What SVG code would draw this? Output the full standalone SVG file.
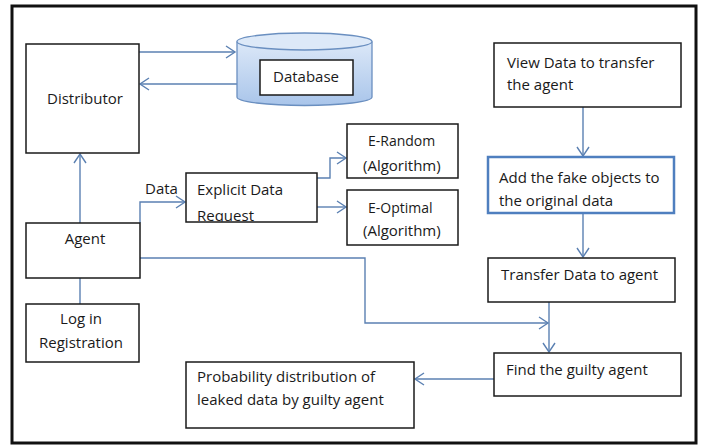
<svg xmlns="http://www.w3.org/2000/svg" width="702" height="445" viewBox="0 0 702 445">
<style>
.box{fill:#fff;stroke:#1a1a1a;stroke-width:1.5}
.t{font-family:"Open Sans","Liberation Sans",Arial,sans-serif;font-size:15px;fill:#1a1a1a}
.s{font-size:14px}
.c{text-anchor:middle}
.con{fill:none;stroke:#5b80b2;stroke-width:1.4}
</style>
<defs>
<marker id="ah" markerUnits="userSpaceOnUse" markerWidth="12" markerHeight="14" refX="10" refY="7" orient="auto">
<path d="M1,1 L10,7 L1,13" fill="none" stroke="#5b80b2" stroke-width="1.4"/>
</marker>
<linearGradient id="cyl" x1="0" y1="0" x2="0" y2="1">
<stop offset="0" stop-color="#dce8f8"/>
<stop offset="1" stop-color="#a9c5ea"/>
</linearGradient>
<clipPath id="reqclip"><rect x="186" y="173" width="131" height="48.5"/></clipPath>
</defs>
<rect x="12" y="6" width="684" height="437" fill="#fff" stroke="#111" stroke-width="3"/>

<g id="connectors">
<path class="con" d="M139,52 H235" marker-end="url(#ah)"/>
<path class="con" d="M237,84 H140" marker-end="url(#ah)"/>
<path class="con" d="M80,223 V154" marker-end="url(#ah)"/>
<path class="con" d="M80,304 V260" marker-end="url(#ah)"/>
<path class="con" d="M140,223 V202 H185" marker-end="url(#ah)"/>
<path class="con" d="M317,178 H330 V158 H346" marker-end="url(#ah)"/>
<path class="con" d="M317,207 H346" marker-end="url(#ah)"/>
<path class="con" d="M583,107 V156" marker-end="url(#ah)"/>
<path class="con" d="M583,213 V257" marker-end="url(#ah)"/>
<path class="con" d="M549,302 V352" marker-end="url(#ah)"/>
<path class="con" d="M140,258 H365 V323 H548" marker-end="url(#ah)"/>
<path class="con" d="M494,379 H415" marker-end="url(#ah)"/>
</g>

<g id="distributor">
<rect class="box" x="26" y="44" width="113" height="109"/>
<text class="t c" x="85" y="104">Distributor</text>
</g>

<g id="database">
<path d="M237,41.5 V97 A67.5,8.5 0 0 0 372,97 V41.5" fill="url(#cyl)" stroke="#6a8fc0" stroke-width="1.3"/>
<ellipse cx="304.5" cy="41.5" rx="67.5" ry="8.5" fill="#dde9f8" stroke="#6a8fc0" stroke-width="1.3"/>
<rect class="box" x="260" y="60" width="93" height="35"/>
<text class="t c" x="306" y="82">Database</text>
</g>

<g id="agent">
<rect class="box" x="26" y="223" width="114" height="55"/>
<text class="t c" x="85" y="244">Agent</text>
</g>

<g id="login">
<rect class="box" x="26" y="304" width="113" height="58"/>
<text class="t c" x="81" y="324">Log in</text>
<text class="t c" x="81" y="348">Registration</text>
</g>

<g id="data-label">
<text class="t" x="145" y="194">Data</text>
</g>

<g id="explicit">
<rect class="box" x="186" y="173" width="131" height="49"/>
<g clip-path="url(#reqclip)">
<text class="t" x="197" y="195">Explicit Data</text>
<text class="t" x="197" y="221">Request</text>
</g>
</g>

<g id="erandom">
<rect class="box" x="347" y="124" width="111" height="54"/>
<text class="t s" x="368" y="146">E-Random</text>
<text class="t" x="363" y="171">(Algorithm)</text>
</g>

<g id="eoptimal">
<rect class="box" x="347" y="190" width="111" height="55"/>
<text class="t s" x="368" y="213">E-Optimal</text>
<text class="t" x="363" y="236">(Algorithm)</text>
</g>

<g id="viewdata">
<rect class="box" x="494" y="43" width="187" height="64"/>
<text class="t" x="507" y="68">View Data to transfer</text>
<text class="t" x="507" y="90">the agent</text>
</g>

<g id="addfake">
<rect x="488" y="157" width="186" height="56" fill="#fff" stroke="#4f7fbf" stroke-width="2.5"/>
<text class="t" x="499" y="183">Add the fake objects to</text>
<text class="t" x="499" y="206">the original data</text>
</g>

<g id="transfer">
<rect class="box" x="488" y="258" width="187" height="44"/>
<text class="t" x="501" y="280">Transfer Data to agent</text>
</g>

<g id="findguilty">
<rect class="box" x="494" y="353" width="187" height="43"/>
<text class="t" x="506" y="375">Find the guilty agent</text>
</g>

<g id="probability">
<rect class="box" x="186" y="362" width="228" height="66"/>
<text class="t" x="197" y="382">Probability distribution of</text>
<text class="t" x="197" y="405">leaked data by guilty agent</text>
</g>
</svg>
